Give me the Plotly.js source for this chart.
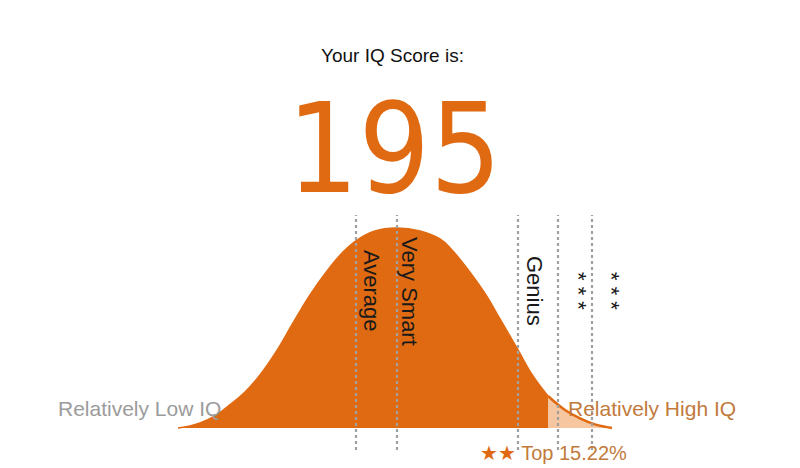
<!DOCTYPE html>
<html>
<head>
<meta charset="utf-8">
<script src="https://cdn.plot.ly/plotly-3.0.1.min.js"></script>
<style>html,body{margin:0;padding:0;background:#fff;}#chart{width:800px;height:468px;}</style>
</head>
<body>
<div id="chart"></div>
<script>
// ---- data ----
const scoreTitle = "Your IQ Score is:";
const iqScore = "195";
const iqScale = [56.4, 58.8, 60.8, 63.8, 66.2, 69.8, 72.8, 76.0, 79.4, 82.8, 86.2, 89.4, 92.2, 95.8, 100.0,
                 104.8, 108.8, 111.2, 114.6, 118.0, 120.8, 124.4, 127.4, 130.4, 133.8, 136.8, 139.8, 143.2];
const density = [0.0, 0.01, 0.025, 0.06, 0.105, 0.18, 0.265, 0.38, 0.525, 0.665, 0.785, 0.88, 0.94, 0.985, 1.0,
                 0.985, 0.945, 0.89, 0.785, 0.665, 0.545, 0.39, 0.26, 0.16, 0.09, 0.048, 0.018, 0.0];
const cutoffIQ = 130.4;
const markerIQ = [92.0, 100.2, 124.4, 132.4, 139.2];
const labelTexts = ["Average", "Very Smart", "Genius", "* * *", "* * *"];
const labelIQ = [95.2, 102.8, 127.8, 136.6, 143.2];
const lowLabel = "Relatively Low IQ";
const highLabel = "Relatively High IQ";
const topStars = "★★";
const topText = "Top 15.22%";

// ---- styling ----
const ORANGE = "#e06a12";
const PEACH = "#f6c6a0";
const BROWN = "#c27a3c";
const GRAY = "#9b9b9b";
const FONT = "Liberation Sans, Arial, sans-serif";

const darkX = [], darkY = [], lightX = [], lightY = [];
iqScale.forEach((x, i) => {
  if (x <= cutoffIQ) { darkX.push(x); darkY.push(density[i]); }
  if (x >= cutoffIQ) { lightX.push(x); lightY.push(density[i]); }
});

const traces = [
  {x: darkX, y: darkY, type: "scatter", mode: "lines", fill: "tozeroy",
   fillcolor: ORANGE, line: {color: ORANGE, width: 1.5, shape: "spline", smoothing: 1.2}, hoverinfo: "skip"},
  {x: lightX, y: lightY, type: "scatter", mode: "lines", fill: "tozeroy",
   fillcolor: PEACH, line: {color: ORANGE, width: 2.5, shape: "spline", smoothing: 1.2}, hoverinfo: "skip"}
];

const shapes = markerIQ.map(x => ({
  type: "line", xref: "x", yref: "y", x0: x, x1: x, y0: -0.11, y1: 1.065,
  line: {color: "#a0a0a0", width: 2.2, dash: "dot"}, layer: "above"
}));

const annotations = [
  {xref: "paper", yref: "paper", x: 0.491, y: 1 - 55/468, text: scoreTitle, showarrow: false,
   xanchor: "center", yanchor: "middle", font: {family: FONT, size: 19, color: "#111"}},
  {xref: "paper", yref: "paper", x: 0.493, y: 1 - 148/468, text: iqScore, showarrow: false,
   xanchor: "center", yanchor: "middle",
   font: {family: "DejaVu Sans Condensed, DejaVu Sans, sans-serif", size: 125, color: ORANGE}},
  {xref: "paper", yref: "y", x: 56/800, y: (428-408)/200, text: lowLabel, showarrow: false,
   xanchor: "left", yanchor: "middle", font: {family: FONT, size: 21, color: GRAY}},
  {xref: "paper", yref: "y", x: 566/800, y: (428-408)/200, text: highLabel, showarrow: false,
   xanchor: "left", yanchor: "middle", font: {family: FONT, size: 21, color: BROWN}},
  {xref: "paper", yref: "y", x: 478/800, y: (428-453)/200,
   text: '<span style="color:' + ORANGE + '">' + topStars + '</span> ' + topText, showarrow: false,
   xanchor: "left", yanchor: "middle", font: {family: FONT, size: 20, color: BROWN}}
];
labelTexts.forEach((t, i) => {
  annotations.push({xref: "x", yref: "y", x: labelIQ[i], y: 0.685, text: t, showarrow: false,
    textangle: 90, xanchor: "center", yanchor: "middle",
    font: {family: FONT, size: 22, color: "#1a1a1a"}});
});

const layout = {
  width: 800, height: 468,
  margin: {l: 0, r: 0, t: 0, b: 0},
  paper_bgcolor: "#ffffff", plot_bgcolor: "#ffffff",
  showlegend: false,
  xaxis: {range: [100 - 396/5, 100 + 404/5], visible: false, fixedrange: true},
  yaxis: {range: [-0.2, 2.14], visible: false, fixedrange: true},
  shapes: shapes,
  annotations: annotations
};

Plotly.newPlot("chart", traces, layout, {staticPlot: true, displayModeBar: false});
</script>
</body>
</html>
